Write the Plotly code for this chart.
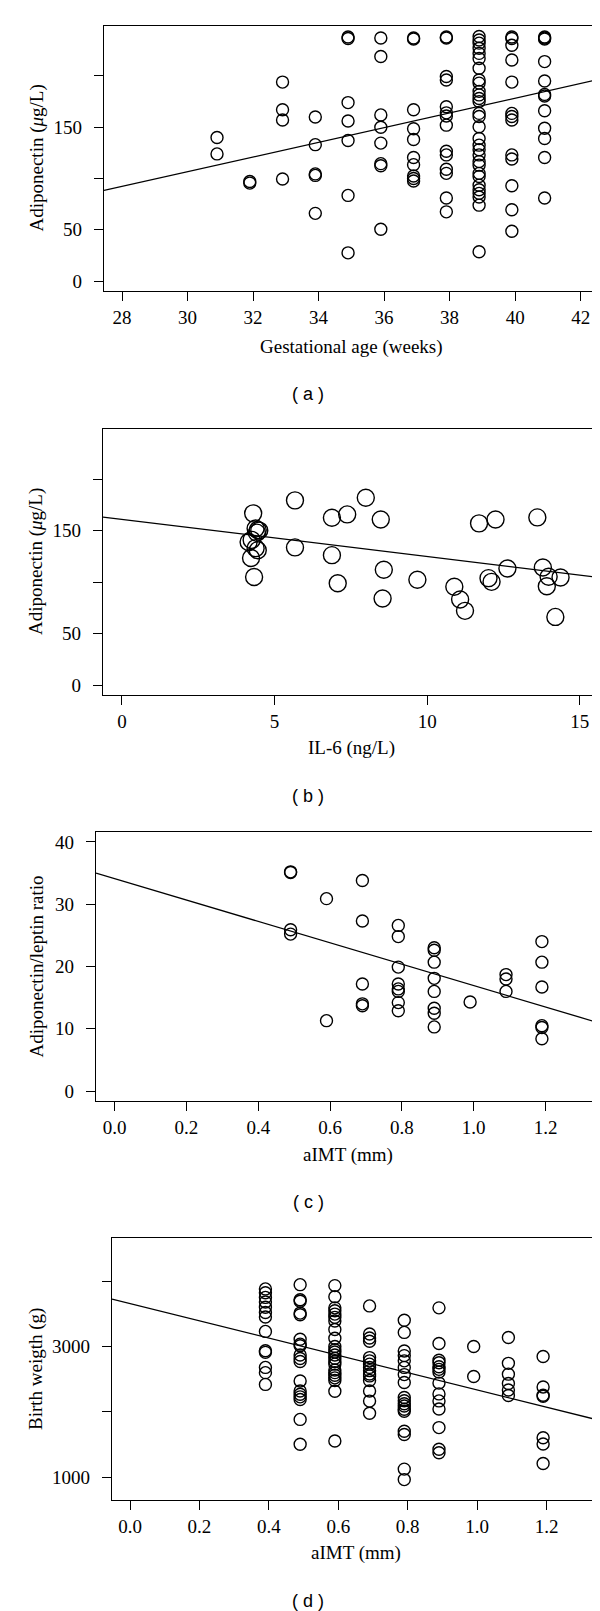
import plotly.graph_objects as go

W, H = 600, 1611

# ---------------- Panel (a): Adiponectin vs gestational age ----------------
a_weeks = [30.9, 31.9, 32.9, 33.9, 34.9, 35.9, 36.9, 37.9, 38.9, 39.9, 40.9]
a_w31 = [140, 124]
a_w32 = [97, 95.5]
a_w33 = [194, 167, 157, 99.5]
a_w34 = [160, 133, 104.5, 103, 66]
a_w35 = [238, 236.5, 174, 156, 137, 83.5, 27.5]
a_w36 = [237, 219, 162, 150, 134.5, 114.5, 112.5, 50.5]
a_w37 = [237, 236, 167, 148.5, 138, 120.5, 113.5, 102.5, 100, 97.5]
a_w38 = [238, 237, 199.5, 196, 170, 164, 161, 152, 126.5, 123, 109, 105, 81, 67.5]
a_w39 = [238.5, 235, 232, 227, 222, 217, 207.5, 196, 193, 185, 181.5, 178, 175,
         163.5, 160.5, 150.5, 139, 132.5, 128, 123, 116.5, 113, 105, 102, 93.5,
         89, 85.5, 82, 74, 28.5]
a_w40 = [238, 236.5, 230, 215.5, 194, 163.5, 160.5, 157, 123, 119, 93, 69.5, 48.5]
a_w41 = [238, 237, 236, 214, 195, 182, 180.5, 166, 149, 139, 120.5, 81]
a_fit = (-108.5, 7.17)  # intercept, slope

# ---------------- Panel (b): Adiponectin vs IL-6 ----------------
b_il6 = [4.30, 4.38, 4.45, 4.50, 4.42, 4.15, 4.25, 4.38, 4.45, 4.23, 4.33,
         5.67, 5.67, 6.88, 7.38, 6.88, 7.07, 7.99, 8.48, 8.58, 8.54, 9.68,
         10.89, 11.08, 11.24, 11.70, 12.24, 12.01, 12.11, 12.63, 13.61, 13.79,
         13.98, 13.92, 14.37, 14.20]
b_adipo = [166.7, 152, 150.5, 150, 148, 139, 141, 133, 131, 123.5, 105,
           179.3, 133.7, 162.5, 165.7, 126.2, 99, 181.9, 160.8, 112, 84.1, 102.3,
           95.5, 83.2, 72.2, 157, 160.8, 103.9, 100.3, 113.3, 162.8, 114.2,
           105.2, 96.1, 104.5, 66.3]
b_fit = (160.9, -3.6)

# ---------------- Panel (c): Adiponectin/leptin ratio vs aIMT ----------------
c_aimt_levels = [0.49, 0.59, 0.69, 0.79, 0.89, 0.99, 1.09, 1.19]
c_r049 = [35.2, 35.1, 25.9, 25.2]
c_r059 = [30.9, 11.3]
c_r069 = [33.8, 27.3, 17.2, 14.0, 13.7]
c_r079 = [26.6, 24.8, 19.9, 17.2, 16.4, 16.0, 14.2, 12.9]
c_r089 = [23.0, 22.6, 20.7, 18.1, 16.0, 13.3, 12.5, 10.3]
c_r099 = [14.3]
c_r109 = [18.7, 18.0, 16.0]
c_r119 = [24.0, 20.7, 16.7, 10.5, 10.2, 8.4]
c_fit = (34.1, -17.17)

# ---------------- Panel (d): Birth weight vs aIMT ----------------
d_aimt_levels = [0.39, 0.49, 0.59, 0.69, 0.79, 0.89, 0.99, 1.09, 1.19]
d_w039 = [3880, 3820, 3750, 3680, 3600, 3520, 3450, 3230, 2935, 2910, 2680, 2600, 2420]
d_w049 = [3945, 3715, 3690, 3510, 3485, 3110, 3035, 3010, 2870, 2815, 2770, 2472,
          2320, 2270, 2230, 2190, 1885, 1505]
d_w059 = [3930, 3760, 3590, 3545, 3495, 3445, 3390, 3260, 3125, 3000, 2950, 2915,
          2870, 2820, 2770, 2730, 2640, 2600, 2560, 2520, 2480, 2315, 1555]
d_w069 = [3620, 3190, 3130, 3080, 2830, 2780, 2730, 2680, 2630, 2580, 2550, 2480,
          2320, 2165, 1980]
d_w079 = [3400, 3215, 2930, 2860, 2780, 2680, 2570, 2450, 2220, 2170, 2125, 2090,
          2040, 2010, 1705, 1655, 1125, 965]
d_w089 = [3590, 3046, 2790, 2750, 2690, 2650, 2610, 2440, 2275, 2168, 2045, 1760,
          1428, 1376]
d_w099 = [3000, 2540]
d_w109 = [3138, 2742, 2577, 2434, 2335, 2250]
d_w119 = [2847, 2380, 2255, 2240, 1605, 1510, 1210]
d_fit = (3655, -1320)

# ---------------- axis / tick settings ----------------
a_xticks = [28, 30, 32, 34, 36, 38, 40, 42]
a_yticks = [0, 50, 100, 150, 200]
a_ytext = ["0", "50", "", "150", ""]
b_xticks = [0, 5, 10, 15]
b_yticks = [0, 50, 100, 150, 200]
b_ytext = ["0", "50", "", "150", ""]
cd_xticks = [0.0, 0.2, 0.4, 0.6, 0.8, 1.0, 1.2]
cd_xtext = ["0.0", "0.2", "0.4", "0.6", "0.8", "1.0", "1.2"]
c_yticks = [0, 10, 20, 30, 40]
d_yticks = [1000, 2000, 3000, 4000]
d_ytext = ["1000", "", "3000", ""]


def expand(levels, groups):
    xs, ys = [], []
    for lv, g in zip(levels, groups):
        xs += [lv] * len(g)
        ys += list(g)
    return xs, ys


a_x, a_y = expand(a_weeks, [a_w31, a_w32, a_w33, a_w34, a_w35, a_w36, a_w37,
                            a_w38, a_w39, a_w40, a_w41])
c_x, c_y = expand(c_aimt_levels, [c_r049, c_r059, c_r069, c_r079, c_r089,
                                  c_r099, c_r109, c_r119])
d_x, d_y = expand(d_aimt_levels, [d_w039, d_w049, d_w059, d_w069, d_w079,
                                  d_w089, d_w099, d_w109, d_w119])

panels = [
    dict(x=a_x, y=a_y, fit=a_fit, xr=[27.45, 42.56], yr=[-9.7, 248.7],
         box=(96, 591, 18, 283), xt=a_xticks, xtt=[str(v) for v in a_xticks],
         yt=a_yticks, ytt=a_ytext, msize=12,
         ytitle="Adiponectin (<i>μ</i>g/L)", xtitle="Gestational age (weeks)",
         ytx=28, xty=339, lab="( a )", laby=386),
    dict(x=b_il6, y=b_adipo, fit=b_fit, xr=[-0.62, 15.63], yr=[-9.4, 248.5],
         box=(95, 591, 421, 687), xt=b_xticks, xtt=[str(v) for v in b_xticks],
         yt=b_yticks, ytt=b_ytext, msize=17,
         ytitle="Adiponectin (<i>μ</i>g/L)", xtitle="IL-6 (ng/L)",
         ytx=28, xty=740, lab="( b )", laby=788),
    dict(x=c_x, y=c_y, fit=c_fit, xr=[-0.052, 1.349], yr=[-1.6, 41.6],
         box=(88, 591, 824, 1093), xt=cd_xticks, xtt=cd_xtext,
         yt=c_yticks, ytt=[str(v) for v in c_yticks], msize=12,
         ytitle="Adiponectin/leptin ratio", xtitle="aIMT (mm)",
         ytx=28, xty=1147, lab="( c )", laby=1194),
    dict(x=d_x, y=d_y, fit=d_fit, xr=[-0.052, 1.351], yr=[653, 4658],
         box=(104, 591, 1230, 1492), xt=cd_xticks, xtt=cd_xtext,
         yt=d_yticks, ytt=d_ytext, msize=12,
         ytitle="Birth weigth (g)", xtitle="aIMT (mm)",
         ytx=28, xty=1545, lab="( d )", laby=1593),
]

SERIF = "Liberation Serif, Times New Roman, serif"
fig = go.Figure()
annotations = []
layout = {}

for i, p in enumerate(panels):
    n = "" if i == 0 else str(i + 1)
    xa, ya = "x" + n, "y" + n
    x0, x1, y0, y1 = p["box"]
    fig.add_trace(go.Scatter(
        x=p["x"], y=p["y"], mode="markers", xaxis=xa, yaxis=ya,
        marker=dict(symbol="circle-open", size=p["msize"], color="black",
                    line=dict(width=1.4, color="black")),
        showlegend=False, hoverinfo="skip"))
    b0, b1 = p["fit"]
    lx = p["xr"]
    fig.add_trace(go.Scatter(
        x=lx, y=[b0 + b1 * v for v in lx], mode="lines", xaxis=xa, yaxis=ya,
        line=dict(color="black", width=1.3), showlegend=False,
        hoverinfo="skip", cliponaxis=True))
    common = dict(showline=True, mirror=True, linecolor="black", linewidth=1.4,
                  ticks="outside", ticklen=9, tickwidth=1.3, tickcolor="black",
                  showgrid=False, zeroline=False, tickmode="array",
                  tickfont=dict(family=SERIF, size=19, color="black"),
                  fixedrange=True)
    layout["xaxis" + n] = dict(common, domain=[x0 / W, x1 / W], range=p["xr"],
                               anchor=ya, tickvals=p["xt"], ticktext=p["xtt"],
                               ticklabelstandoff=0)
    layout["yaxis" + n] = dict(common, domain=[1 - y1 / H, 1 - y0 / H],
                               range=p["yr"], anchor=xa, tickvals=p["yt"],
                               ticktext=p["ytt"], ticklabelstandoff=8)
    annotations.append(dict(text=p["ytitle"], xref="paper", yref="paper",
                            x=p["ytx"] / W, y=1 - ((y0 + y1) / 2) / H,
                            textangle=-90, showarrow=False,
                            xanchor="center", yanchor="middle",
                            font=dict(family=SERIF, size=19, color="black")))
    annotations.append(dict(text=p["xtitle"], xref="paper", yref="paper",
                            x=((x0 + x1) / 2) / W, y=1 - p["xty"] / H,
                            showarrow=False, xanchor="center", yanchor="middle",
                            font=dict(family=SERIF, size=19, color="black")))
    annotations.append(dict(text=p["lab"], xref="paper", yref="paper",
                            x=0.5, y=1 - p["laby"] / H,
                            showarrow=False, xanchor="center", yanchor="middle",
                            font=dict(family="Liberation Sans, Arial, sans-serif",
                                      size=18, color="black")))

fig.update_layout(**layout)
fig.update_layout(width=W, height=H, margin=dict(l=0, r=0, t=0, b=0),
                  paper_bgcolor="white", plot_bgcolor="white",
                  annotations=annotations, showlegend=False)

fig.write_html("out.html")
